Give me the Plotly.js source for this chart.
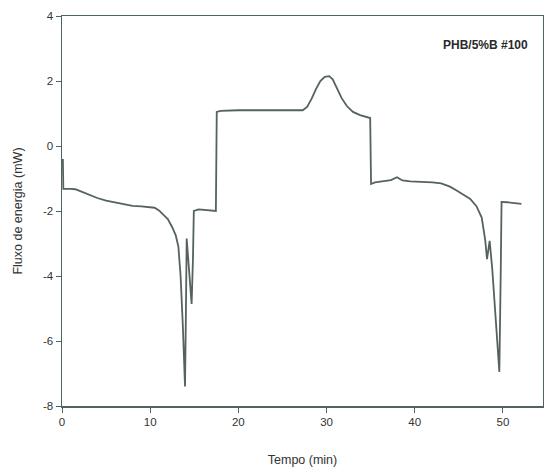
<!DOCTYPE html>
<html>
<head>
<meta charset="utf-8">
<script src="https://cdn.plot.ly/plotly-3.0.1.min.js"></script>
<style>html,body{margin:0;padding:0;background:#fff;overflow:hidden;}#chart{width:544px;height:474px;}</style>
</head>
<body>
<div id="chart"></div>
<script>
const tempo = [0.1,0.15,1,1.5,2,3,4,5,6,7,8,9,10,10.5,11,11.5,12,12.5,12.9,13.2,13.45,13.7,13.95,14.05,14.14,14.35,14.55,14.7,14.85,14.95,15.5,16.5,17.45,17.55,18,20,22,24,26,27.3,27.8,28.3,28.8,29.3,29.8,30.3,30.7,31.2,31.7,32.3,33,33.8,34.5,34.95,35.05,35.5,36.5,37.3,38.0,38.6,39.5,41,42,43,44,44.8,45.5,46.3,47,47.6,47.8,48.0,48.2,48.5,48.8,49.1,49.35,49.6,49.75,49.85,50.5,51.3,52.1];
const fluxo = [-0.4,-1.32,-1.32,-1.33,-1.38,-1.5,-1.6,-1.68,-1.74,-1.8,-1.84,-1.86,-1.88,-1.9,-1.98,-2.1,-2.25,-2.5,-2.75,-3.1,-4.0,-5.5,-7.4,-5.2,-2.85,-3.6,-4.5,-4.86,-3.5,-2.0,-1.95,-1.97,-2.0,1.05,1.08,1.1,1.1,1.1,1.09,1.1,1.2,1.45,1.75,2.0,2.13,2.15,2.05,1.75,1.48,1.23,1.05,0.95,0.9,0.86,-1.17,-1.12,-1.08,-1.05,-0.96,-1.06,-1.09,-1.1,-1.12,-1.15,-1.25,-1.38,-1.5,-1.63,-1.85,-2.2,-2.55,-2.9,-3.48,-2.92,-3.8,-5.0,-6.0,-6.95,-4.0,-1.72,-1.73,-1.76,-1.78];
const xTicks = [0,10,20,30,40,50];
const yTicks = [-8,-6,-4,-2,0,2,4];

const axisColor = '#4e6464';
Plotly.newPlot('chart', [{
  x: tempo, y: fluxo, type: 'scatter', mode: 'lines',
  line: {color: '#55625f', width: 1.8}, hoverinfo: 'skip'
}], {
  width: 544, height: 474,
  margin: {l: 62, r: 1, t: 16, b: 68},
  paper_bgcolor: '#fff', plot_bgcolor: '#fff',
  showlegend: false,
  font: {family: 'Liberation Sans, Arial, sans-serif', color: '#333', size: 11},
  xaxis: {
    range: [0, 54.55], tickvals: xTicks, ticktext: xTicks.map(String),
    showgrid: false, zeroline: false, showline: true, linecolor: axisColor, linewidth: 1.5,
    mirror: true, ticks: 'outside', ticklen: 5, tickcolor: axisColor, tickwidth: 1,
    tickfont: {size: 11.5, color: '#333'},
    title: {text: 'Tempo (min)', font: {size: 12.5, color: '#333'}, standoff: 28}
  },
  yaxis: {
    range: [-8, 4], tickvals: yTicks, ticktext: yTicks.map(String),
    showgrid: false, zeroline: false, showline: true, linecolor: axisColor, linewidth: 1.5,
    mirror: true, ticks: 'outside', ticklen: 5, tickcolor: axisColor, tickwidth: 1,
    tickfont: {size: 11.5, color: '#333'},
    title: {text: 'Fluxo de energia (mW)', font: {size: 12.5, color: '#333'}, standoff: 17}
  },
  annotations: [{
    text: '<b>PHB/5%B #100</b>', xref: 'paper', yref: 'paper',
    x: (530 - 62) / 481, y: 1 - (45 - 16) / 390, xanchor: 'right', yanchor: 'middle',
    showarrow: false, font: {size: 12, color: '#2a2a2a', family: 'Liberation Sans, Arial, sans-serif'}
  }]
}, {staticPlot: true, displayModeBar: false});
</script>
</body>
</html>
